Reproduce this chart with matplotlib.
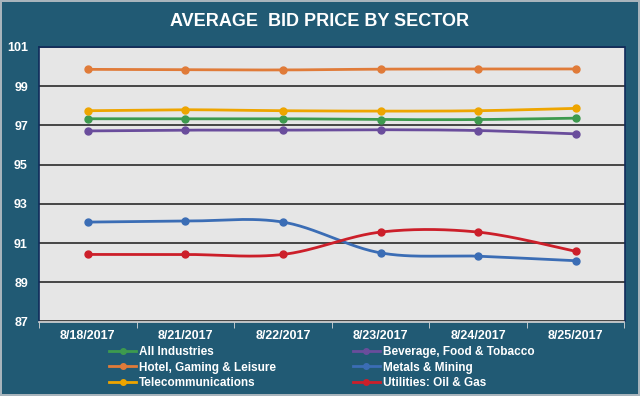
import numpy as np
import matplotlib
matplotlib.use("Agg")
import matplotlib.pyplot as plt
from matplotlib.lines import Line2D

plt.rcParams['font.family'] = ['Liberation Sans', 'DejaVu Sans']

dates = ["8/18/2017", "8/21/2017", "8/22/2017", "8/23/2017", "8/24/2017", "8/25/2017"]

all_industries = [97.34, 97.34, 97.34, 97.30, 97.30, 97.37]
beverage = [96.72, 96.76, 96.76, 96.78, 96.74, 96.57]
hotel = [99.86, 99.84, 99.83, 99.87, 99.88, 99.88]
metals = [92.07, 92.12, 92.07, 90.50, 90.33, 90.10]
telecom = [97.75, 97.80, 97.75, 97.73, 97.75, 97.87]
utilities = [90.42, 90.42, 90.42, 91.56, 91.56, 90.58]

names = ["All Industries", "Hotel, Gaming & Leisure", "Telecommunications",
         "Beverage, Food & Tobacco", "Metals & Mining", "Utilities: Oil & Gas"]
series = [all_industries, hotel, telecom, beverage, metals, utilities]
colors = ["#3d9a4e", "#e07b39", "#eea500", "#6a4d9c", "#3b6db5", "#cc1f2a"]

bg = "#215a74"


def smooth(y, n=30):
    # excel style smoothed line (catmull-rom bezier)
    x = np.arange(len(y), dtype=float)
    y = np.asarray(y, dtype=float)
    xs, ys = [], []
    t = np.linspace(0, 1, n)
    for i in range(len(y) - 1):
        p0 = np.array([x[max(i - 1, 0)], y[max(i - 1, 0)]])
        p1 = np.array([x[i], y[i]])
        p2 = np.array([x[i + 1], y[i + 1]])
        p3 = np.array([x[min(i + 2, len(y) - 1)], y[min(i + 2, len(y) - 1)]])
        c1 = p1 + (p2 - p0) / 6
        c2 = p2 - (p3 - p1) / 6
        for tt in t:
            pt = ((1 - tt) ** 3) * p1 + 3 * ((1 - tt) ** 2) * tt * c1 + 3 * (1 - tt) * tt ** 2 * c2 + tt ** 3 * p2
            xs.append(pt[0])
            ys.append(pt[1])
    return xs, ys


fig = plt.figure(figsize=(6.4, 3.96), dpi=100, facecolor=bg, edgecolor="#a8b4bc", linewidth=1.5)
ax = fig.add_axes([39 / 640, 74.5 / 396, 585.5 / 640, 274.5 / 396])
ax.set_facecolor("#e6e6e6")

for vals, c in zip(series, colors):
    sx, sy = smooth(vals)
    ax.plot(sx, sy, color=c, lw=2, solid_capstyle="round", zorder=3)
    ax.plot(range(len(vals)), vals, "o", color=c, ms=5, zorder=4)

ax.set_xlim(-0.5, len(dates) - 0.5)
ax.set_ylim(87, 101)
ax.set_yticks(np.arange(87, 102, 2))
ax.set_xticks(range(len(dates)))
ax.set_xticklabels(dates)
ax.set_xticks(np.arange(-0.5, len(dates), 1), minor=True)
ax.tick_params(axis="x", which="major", length=0, pad=6, labelsize=9, labelcolor="white")
ax.tick_params(axis="x", which="minor", length=4, color="#d8d8d8", direction="out")
ax.tick_params(axis="y", length=0, pad=8, labelsize=9, labelcolor="white")
for lab in ax.get_xticklabels() + ax.get_yticklabels():
    lab.set_fontweight("bold")

ax.grid(axis="y", color="#2a2a2a", lw=1.2)
ax.set_axisbelow(True)
for s in ["left", "top", "right"]:
    ax.spines[s].set_color("#0f2a5a")
    ax.spines[s].set_linewidth(1.2)
ax.spines["bottom"].set_color("#d8d8d8")
ax.spines["bottom"].set_linewidth(1.2)

fig.text(0.5, 1 - 21 / 396, "AVERAGE  BID PRICE BY SECTOR", ha="center", va="center",
         color="white", fontsize=13, fontweight="bold")

handles = [Line2D([0], [0], color=c, lw=2, marker="o", ms=4) for c in colors]
leg = fig.legend(handles, names, loc="upper left", bbox_to_anchor=(109 / 640, 1 - 346 / 396),
                 ncol=2, frameon=False, fontsize=8.5, handlelength=2.3, handletextpad=0.25,
                 columnspacing=6.5, labelspacing=0.3, borderpad=0, borderaxespad=0)
for t in leg.get_texts():
    t.set_color("white")
    t.set_fontweight("bold")

fig.savefig("out.png", dpi=100, facecolor=bg, edgecolor=fig.get_edgecolor())
